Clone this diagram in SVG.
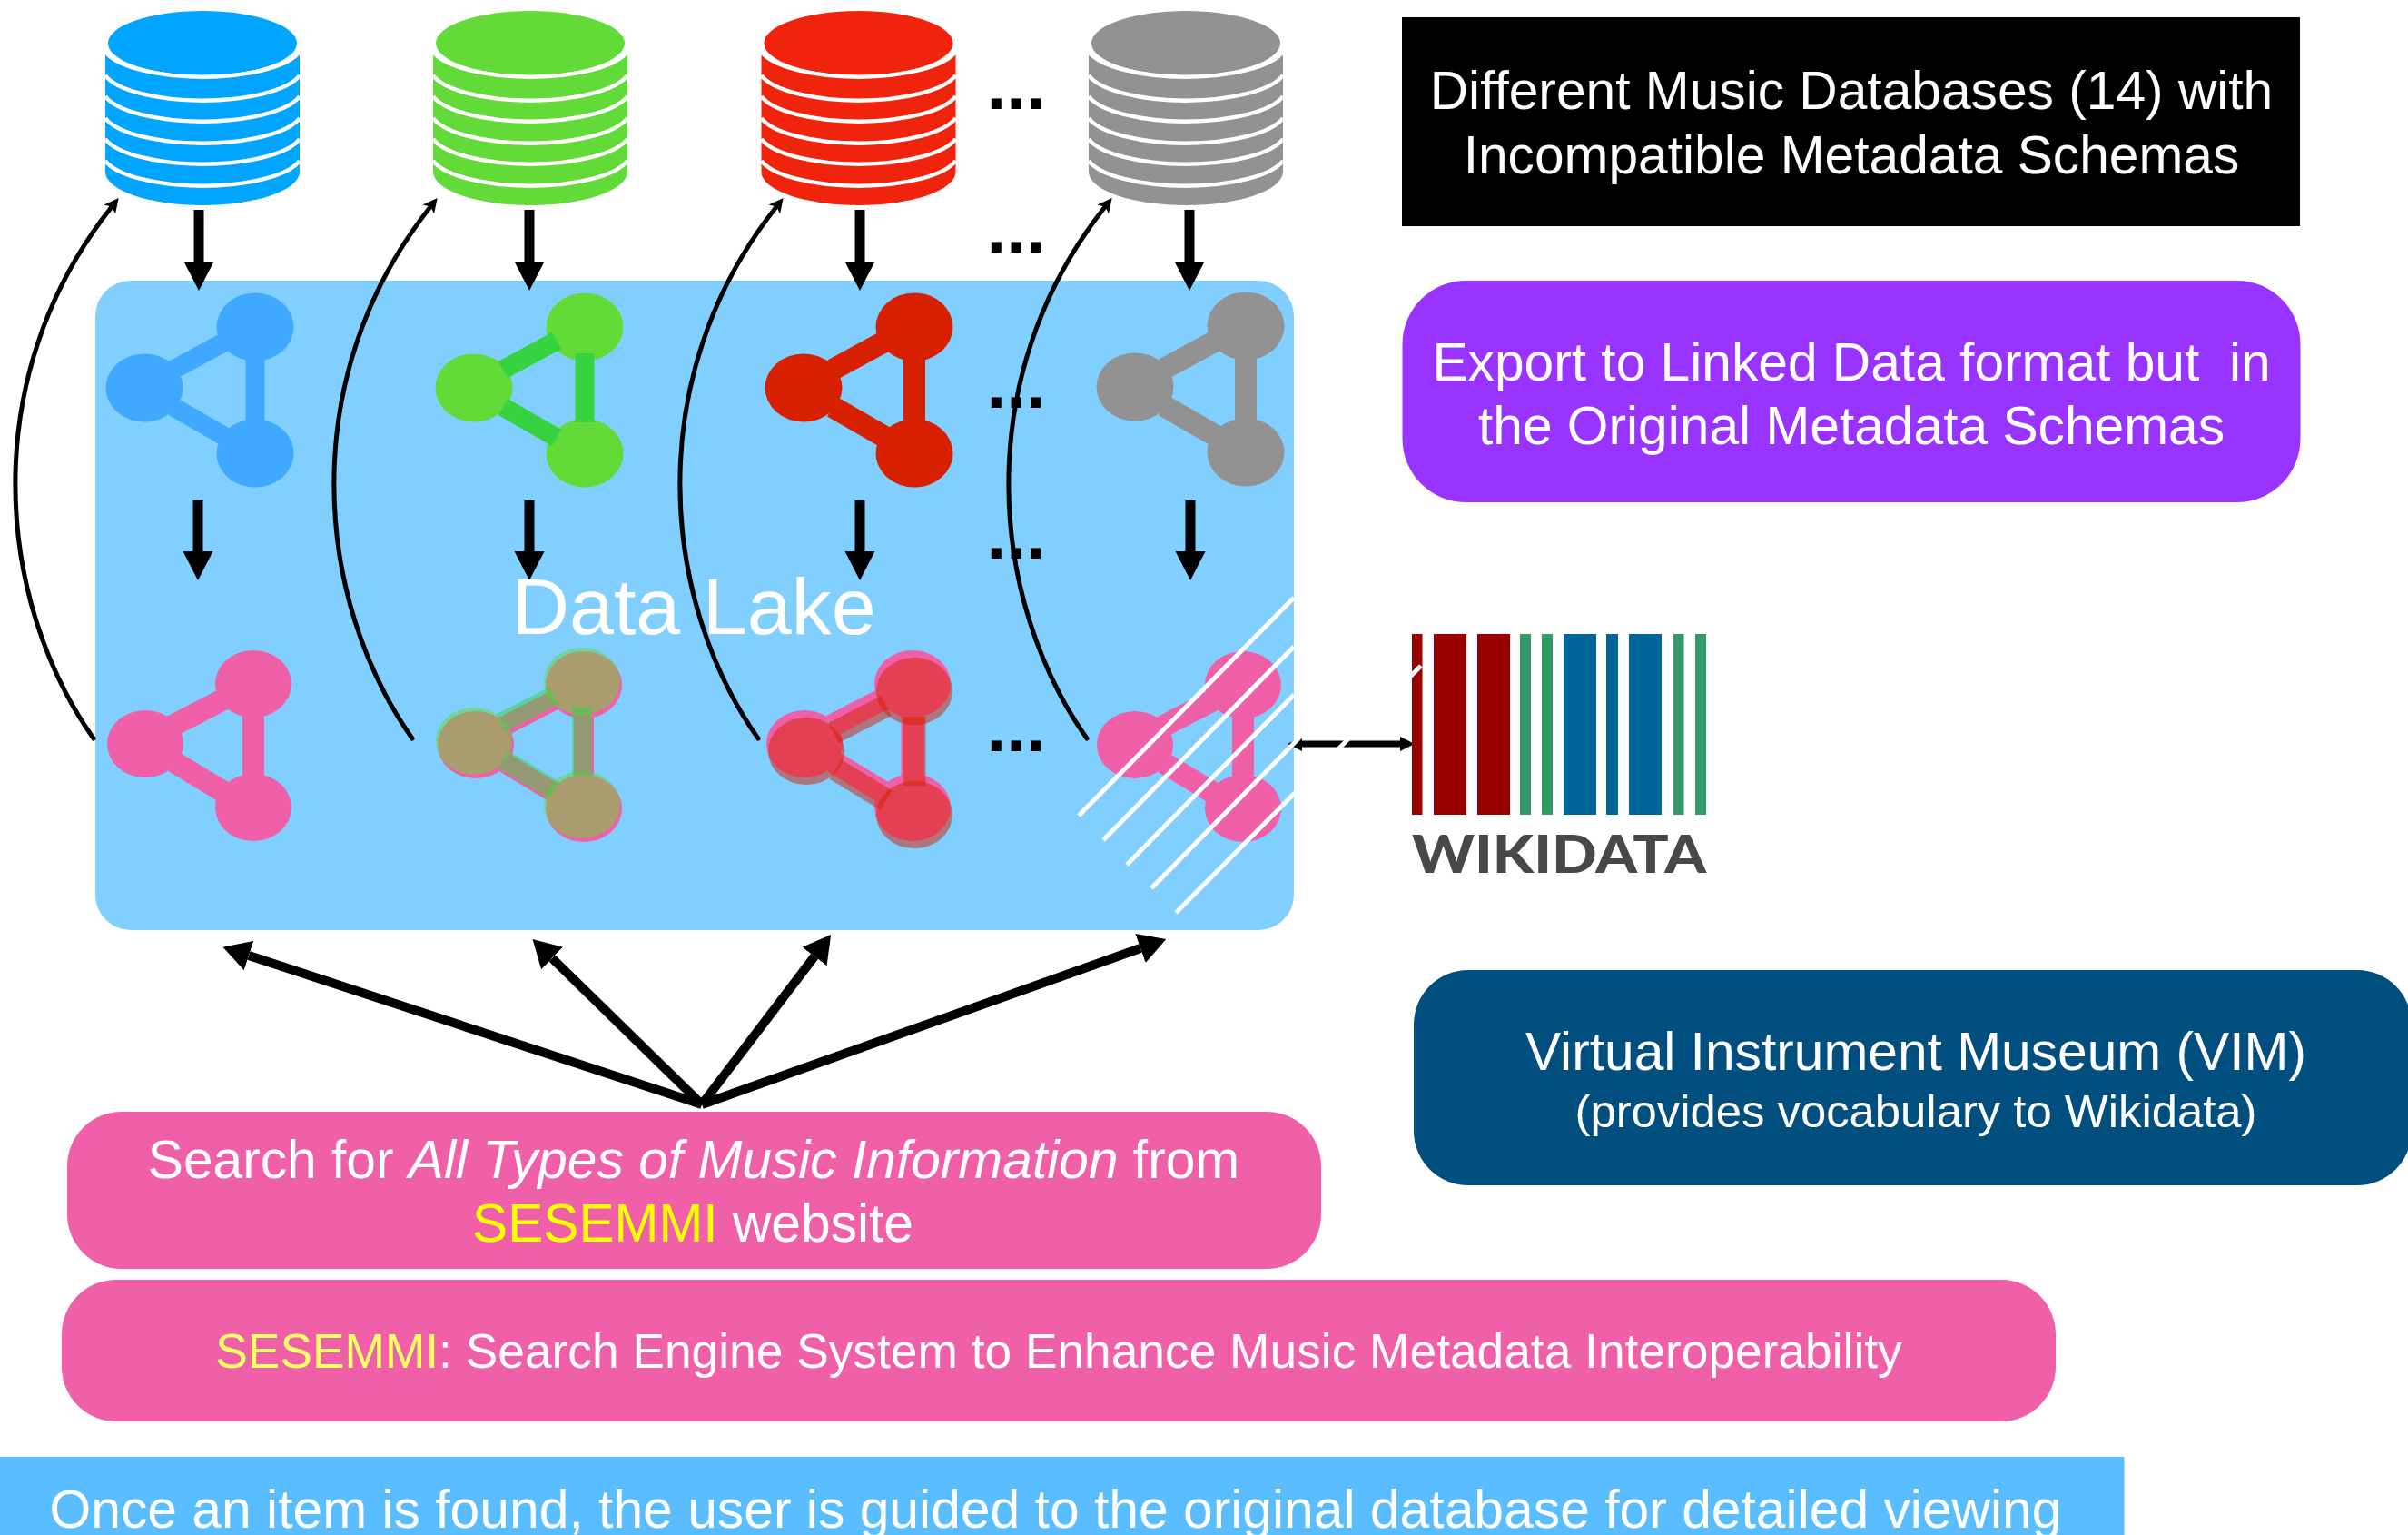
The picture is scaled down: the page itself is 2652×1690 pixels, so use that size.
<svg xmlns="http://www.w3.org/2000/svg" width="2652" height="1690" viewBox="0 0 2652 1690">
<style>
text{font-family:"Liberation Sans",Arial,sans-serif;fill:#fff;text-anchor:middle}
.t{font-size:58.7px}
.dots{font-size:78px;font-weight:bold;fill:#000}
.arc{fill:none;stroke:#fff;stroke-width:4.5}
.curve{fill:none;stroke:#000;stroke-width:5;stroke-linecap:round;marker-end:url(#hs)}
.down{stroke:#000;stroke-width:11;marker-end:url(#hd)}
.big{stroke:#000;stroke-width:10;marker-end:url(#hb)}
.hatch{stroke:#fff;stroke-width:5}
.r{fill:#990000}.g{fill:#339966}.b{fill:#006699}
</style>
<defs>
<marker id="hd" markerUnits="userSpaceOnUse" markerWidth="34" markerHeight="34" refX="0" refY="17" orient="auto" viewBox="0 0 34 34"><path d="M0 0.5L32 17L0 33.5z" fill="#000"/></marker>
<marker id="hb" markerUnits="userSpaceOnUse" markerWidth="32" markerHeight="36" refX="0" refY="18" orient="auto" viewBox="0 0 32 36"><path d="M0 1L30 18L0 35z" fill="#000"/></marker>
<marker id="hs" markerUnits="userSpaceOnUse" markerWidth="18" markerHeight="18" refX="2" refY="9" orient="auto" viewBox="0 0 18 18"><path d="M0 1L16 9L0 17L4 9z" fill="#000"/></marker>
<marker id="ha" markerUnits="userSpaceOnUse" markerWidth="18" markerHeight="18" refX="1" refY="9" orient="auto-start-reverse" viewBox="0 0 18 18"><path d="M0 1L16 9L0 17z" fill="#000"/></marker>
<g id="db">
<path d="M-107 57V189A107 37 0 0 0 107 189V57A110 36 0 0 1 -107 57z"/>
<ellipse cx="0" cy="47.5" rx="104" ry="35.5"/>
<path class="arc" d="M-107 57A110 36 0 0 0 107 57"/>
<path class="arc" d="M-107 83A110 36 0 0 0 107 83"/>
<path class="arc" d="M-107 106A110 36 0 0 0 107 106"/>
<path class="arc" d="M-107 130A110 36 0 0 0 107 130"/>
<path class="arc" d="M-107 153A110 36 0 0 0 107 153"/>
<path class="arc" d="M-107 177A110 36 0 0 0 107 177"/>
</g>
<g id="net">
<ellipse cx="0" cy="0" rx="42.5" ry="37.5" stroke="none"/>
<ellipse cx="122" cy="-67" rx="42.5" ry="37.5" stroke="none"/>
<ellipse cx="122" cy="72" rx="42.5" ry="37.5" stroke="none"/>
<path d="M32 -20L91 -52M32 21L91 55M122 -38V38" fill="none"/>
</g>
<g id="net2">
<ellipse cx="0" cy="0" rx="42" ry="37" stroke="none"/>
<ellipse cx="119" cy="-66" rx="42" ry="37" stroke="none"/>
<ellipse cx="119" cy="70" rx="42" ry="37" stroke="none"/>
<path d="M30 -20L88 -50M32 20L88 54M119 -38V38" fill="none"/>
</g>
</defs>

<g id="data-lake"><rect x="105" y="309" width="1320" height="715" rx="39" fill="#80cfff"/></g>

<g id="db-blue" transform="translate(223 0)"><use href="#db" fill="#00a5ff"/></g>
<g id="db-green" transform="translate(584 0)"><use href="#db" fill="#62da38"/></g>
<g id="db-red" transform="translate(945.5 0)"><use href="#db" fill="#f0230d"/></g>
<g id="db-grey" transform="translate(1306 0)"><use href="#db" fill="#929292"/></g>

<g id="graph-blue" transform="translate(159 427)"><use href="#net" fill="#3fa9ff" stroke="#3fa9ff" stroke-width="21"/></g>
<g id="graph-green" transform="translate(522 427)"><use href="#net" fill="#62da38" stroke="#36d340" stroke-width="21"/></g>
<g id="graph-red" transform="translate(885 427)"><use href="#net" fill="#d62000" stroke="#d62000" stroke-width="24"/></g>
<g id="graph-grey" transform="translate(1250 426)"><use href="#net" fill="#929292" stroke="#929292" stroke-width="24"/></g>

<g id="mapped-pink" transform="translate(160 819)"><use href="#net2" fill="#f060a8" stroke="#f060a8" stroke-width="24"/></g>
<g id="mapped-green">
<use href="#net2" transform="translate(524 820)" fill="#f060a8" stroke="#f060a8" stroke-width="22"/>
<use href="#net2" transform="translate(522 816)" fill="#62da38" stroke="#36d340" stroke-width="22" fill-opacity=".5" stroke-opacity=".5"/>
</g>
<g id="mapped-red">
<use href="#net2" transform="translate(886 819)" fill="#f060a8" stroke="#f060a8" stroke-width="25"/>
<use href="#net2" transform="translate(888 827)" fill="#d62000" stroke="#d62000" stroke-width="25" fill-opacity=".5" stroke-opacity=".5"/>
</g>
<g id="mapped-grey" transform="translate(1250 820)"><use href="#net2" fill="#f060a8" stroke="#f060a8" stroke-width="24"/></g>

<g id="connectors">
<line class="down" x1="219" y1="231" x2="219" y2="288"/>
<line class="down" x1="583" y1="231" x2="583" y2="288"/>
<line class="down" x1="947" y1="231" x2="947" y2="288"/>
<line class="down" x1="1310" y1="231" x2="1310" y2="288"/>
<line class="down" x1="218" y1="551" x2="218" y2="607"/>
<line class="down" x1="583" y1="551" x2="583" y2="607"/>
<line class="down" x1="947" y1="551" x2="947" y2="607"/>
<line class="down" x1="1311" y1="551" x2="1311" y2="607"/>
<path class="curve" d="M103 813C-5 660 -25 415 122 229"/>
<path class="curve" transform="translate(351 0)" d="M103 813C-5 660 -25 415 122 229"/>
<path class="curve" transform="translate(732 0)" d="M103 813C-5 660 -25 415 122 229"/>
<path class="curve" transform="translate(1094 0)" d="M103 813C-5 660 -25 415 122 229"/>
<line class="big" x1="773" y1="1216" x2="274" y2="1052"/>
<line class="big" x1="773" y1="1216" x2="608" y2="1055"/>
<line class="big" x1="773" y1="1216" x2="897" y2="1053"/>
<line class="big" x1="773" y1="1216" x2="1256" y2="1044"/>
<line x1="1433" y1="819" x2="1543" y2="819" stroke="#000" stroke-width="7" marker-start="url(#ha)" marker-end="url(#ha)"/>
</g>

<g id="wikidata">
<rect class="r" x="1555" y="698" width="11.5" height="199"/>
<rect class="r" x="1579" y="698" width="36" height="199"/>
<rect class="r" x="1627" y="698" width="36" height="199"/>
<rect class="g" x="1674" y="698" width="12" height="199"/>
<rect class="g" x="1698" y="698" width="12" height="199"/>
<rect class="b" x="1722" y="698" width="36" height="199"/>
<rect class="b" x="1769" y="698" width="13" height="199"/>
<rect class="b" x="1794" y="698" width="36" height="199"/>
<rect class="g" x="1843" y="698" width="11.5" height="199"/>
<rect class="g" x="1867" y="698" width="12" height="199"/>
<text x="1555" y="961" font-size="58" font-weight="900" style="font-family:Lato,'Liberation Sans',sans-serif;fill:#484848;text-anchor:start" textLength="324" lengthAdjust="spacingAndGlyphs">WIKIDATA</text>
</g>

<g id="hatching">
<line class="hatch" x1="1188" y1="898" x2="1425" y2="658"/>
<line class="hatch" x1="1215" y1="925" x2="1425" y2="712"/>
<line class="hatch" x1="1241" y1="952" x2="1425" y2="765"/>
<line class="hatch" x1="1268" y1="978" x2="1445" y2="798"/>
<line class="hatch" x1="1295" y1="1005" x2="1565" y2="733"/>
</g>

<g id="dots">
<text class="dots" x="1119" y="120">...</text>
<text class="dots" x="1119" y="278">...</text>
<text class="dots" x="1119" y="449">...</text>
<text class="dots" x="1119" y="615">...</text>
<text class="dots" x="1119" y="827">...</text>
</g>

<g id="lake-label"><text x="764" y="698" font-size="88">Data Lake</text></g>

<g id="box-databases"><rect x="1544" y="19" width="989" height="230" fill="#000"/>
<text class="t" x="2039" y="120">Different Music Databases (14) with</text>
<text class="t" x="2039" y="191">Incompatible Metadata Schemas</text></g>

<g id="box-export"><rect x="1544.500" y="309" width="989" height="244" rx="70" fill="#9933ff"/>
<text class="t" x="2039" y="419" xml:space="preserve">Export to Linked Data format but  in</text>
<text class="t" x="2039" y="489">the Original Metadata Schemas</text></g>

<g id="box-vim"><rect x="1557" y="1068" width="1099" height="237" rx="60" fill="#004f7f"/>
<text class="t" x="2110" y="1178">Virtual Instrument Museum (VIM)</text>
<text x="2110" y="1241" font-size="50.800">(provides vocabulary to Wikidata)</text></g>

<g id="box-search"><rect x="74" y="1224" width="1381" height="173" rx="60" fill="#f060a8"/>
<text class="t" x="764" y="1297">Search for <tspan font-style="italic">All Types of Music Information</tspan> from</text>
<text class="t" x="763" y="1367"><tspan style="fill:#ffff00">SESEMMI</tspan> website</text></g>

<g id="box-sesemmi"><rect x="68" y="1409" width="2196" height="156" rx="60" fill="#f060a8"/>
<text x="1166" y="1506" font-size="53.300"><tspan style="fill:#ffff66">SESEMMI</tspan>: Search Engine System to Enhance Music Metadata Interoperability</text></g>

<g id="box-footer"><rect x="0" y="1604" width="2339.500" height="86" fill="#59bdff"/>
<text x="1162.500" y="1682" font-size="58.800">Once an item is found, the user is guided to the original database for detailed viewing</text></g>
</svg>
